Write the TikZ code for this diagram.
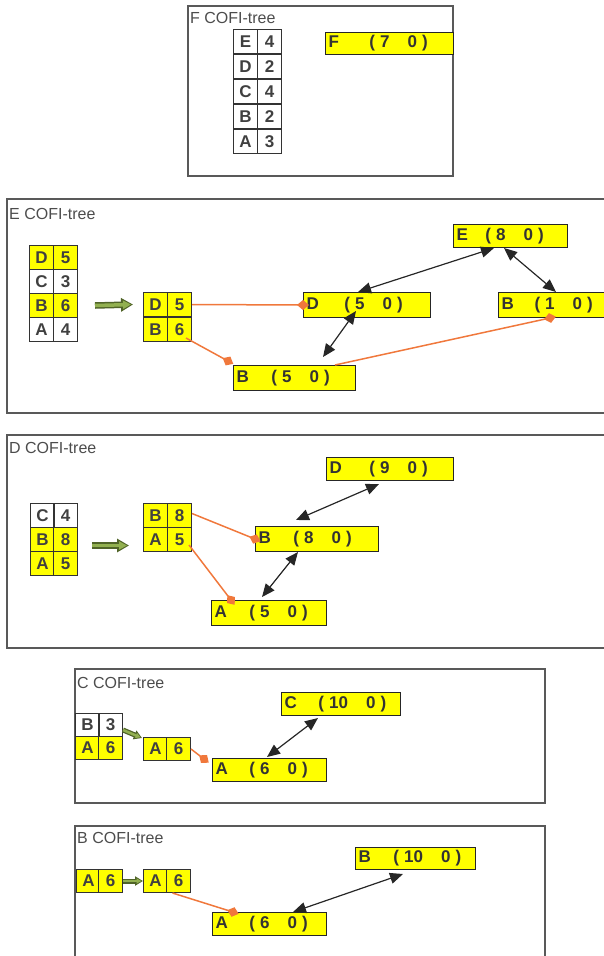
\documentclass[tikz,border=0pt]{standalone}
\usepackage{fontspec}
\setmainfont{Liberation Sans}
\usetikzlibrary{arrows.meta}

\definecolor{cofiyellow}{RGB}{255,255,0}
\definecolor{linkorange}{RGB}{240,120,60}
\definecolor{tipgreen}{RGB}{146,176,80}
\definecolor{rimgreen}{RGB}{80,100,40}

% item label, gap to the bracket, count
\newcommand\cofitext[3]{\makebox[#1][l]{#2}(\hspace{5pt}#3\hspace{18pt}0\hspace{5pt})}

\begin{document}
\begin{tikzpicture}[x=1pt,y=-1pt,
	frame/.style={draw=black!65,line width=1.6pt},
	title/.style={anchor=west,inner sep=0pt,text=black!70,font=\fontsize{16}{18}\selectfont},
	cell/.style={draw=black!80,line width=1pt,anchor=north west,minimum width=24pt,minimum height=24pt,inner sep=0pt,text=black!75,font=\fontsize{17}{18}\selectfont\bfseries},
	hl/.style={fill=cofiyellow},
	cofi/.style={draw=black!85,fill=cofiyellow,line width=1pt,anchor=north west,text width=#1,align=left,inner xsep=3pt,inner ysep=0pt,minimum height=23pt,text=black!80,font=\fontsize{17}{18}\selectfont\bfseries},
	tree/.style={draw=black!85,line width=1.2pt,{Triangle[length=13pt,width=11pt]}-{Triangle[length=13pt,width=11pt]}},
	link/.style={draw=linkorange,line width=1.5pt,-{Diamond[length=12pt,width=10pt]},shorten >=-6pt},
	move/.style={draw=tipgreen,line width=3.5pt,-{Triangle[length=8pt,width=8pt]},shorten >=2pt,
		preaction={draw=rimgreen,line width=6.5pt,-{Triangle[length=12pt,width=13pt]},shorten >=0pt}},
	smallmove/.style={draw=tipgreen,line width=2.5pt,-{Triangle[length=5pt,width=5pt]},shorten >=1.5pt,
		preaction={draw=rimgreen,line width=5pt,-{Triangle[length=8pt,width=9pt]},shorten >=0pt}}]
		\useasboundingbox (0,0) rectangle (604,956);
		\clip (0,0) rectangle (604,956);

		% F
		\draw[frame] (188,6) rectangle (453,176);
		\node[title] (fT) at (190,18) {F COFI-tree};
		\node[cell] (f1E) at (233,29) {E};
		\node[cell] (f1En) at (257,29) {4};
		\node[cell] (f1D) at (233,54) {D};
		\node[cell] (f1Dn) at (257,54) {2};
		\node[cell] (f1C) at (233,79) {C};
		\node[cell] (f1Cn) at (257,79) {4};
		\node[cell] (f1B) at (233,104) {B};
		\node[cell] (f1Bn) at (257,104) {2};
		\node[cell] (f1A) at (233,129) {A};
		\node[cell] (f1An) at (257,129) {3};
		\node[cofi=122pt,minimum height=22pt] (fF) at (325,32) {\cofitext{41pt}{F}{7}};

		% E
		\draw[frame] (7,199) rectangle (620,413);
		\node[title] (eT) at (9,214) {E COFI-tree};
		\node[cell,hl] (e1D) at (29,245) {D};
		\node[cell,hl] (e1Dn) at (53,245) {5};
		\node[cell] (e1C) at (29,269) {C};
		\node[cell] (e1Cn) at (53,269) {3};
		\node[cell,hl] (e1B) at (29,293) {B};
		\node[cell,hl] (e1Bn) at (53,293) {6};
		\node[cell] (e1A) at (29,317) {A};
		\node[cell] (e1An) at (53,317) {4};
		\node[cell,hl] (e2D) at (143,292) {D};
		\node[cell,hl] (e2Dn) at (167,292) {5};
		\node[cell,hl] (e2B) at (143,317) {B};
		\node[cell,hl] (e2Bn) at (167,317) {6};
		\draw[move] ([xshift=17pt]e1Bn.east) -- ([xshift=-10pt]e2D.west);

		\node[cofi=108pt] (eE) at (453,224) {\cofitext{29pt}{E}{8}};
		\node[cofi=121pt,minimum height=25pt] (eD) at (303,292) {\cofitext{38pt}{D}{5}};
		\node[cofi=120pt,minimum height=25pt] (eB1) at (498,292) {\cofitext{33pt}{B}{1}};
		\node[cofi=116pt,minimum height=25pt] (eB5) at (233,365) {\cofitext{35pt}{B}{5}};

		\draw[tree] ([xshift=41pt]eE.south west) -- ([xshift=55pt]eD.north west);
		\draw[tree] ([xshift=51pt]eE.south west) -- ([xshift=58pt]eB1.north west);
		\draw[tree] ([xshift=53pt,yshift=7pt]eD.south west) -- ([xshift=90pt,yshift=8pt]eB5.north west);
		\draw[link] (e2Dn.east) -- (eD.west);
		\draw[link] ([xshift=-6pt,yshift=4pt]e2Bn.south east) -- ([xshift=-5pt,yshift=4pt]eB5.north west);
		\draw[link] ([xshift=102pt]eB5.north west) -- ([xshift=52pt]eB1.south west);

		% D
		\draw[frame] (7,435) rectangle (620,648);
		\node[title] (dT) at (9,448) {D COFI-tree};
		\node[cell] (d1C) at (30,503) {C};
		\node[cell] (d1Cn) at (53,503) {4};
		\node[cell,hl] (d1B) at (30,527) {B};
		\node[cell,hl] (d1Bn) at (53,527) {8};
		\node[cell,hl] (d1A) at (30,551) {A};
		\node[cell,hl] (d1An) at (53,551) {5};
		\node[cell,hl] (d2B) at (143,503) {B};
		\node[cell,hl] (d2Bn) at (167,503) {8};
		\node[cell,hl] (d2A) at (143,527) {A};
		\node[cell,hl] (d2An) at (167,527) {5};
		\draw[move] ([xshift=14pt,yshift=-6pt]d1Bn.east) -- ([xshift=-14pt,yshift=-6pt]d2A.west);

		\node[cofi=121pt] (dD9) at (326,457) {\cofitext{40pt}{D}{9}};
		\node[cofi=117pt,minimum height=25pt] (dB8) at (255,526) {\cofitext{35pt}{B}{8}};
		\node[cofi=109pt,minimum height=25pt] (dA5) at (211,600) {\cofitext{35pt}{A}{5}};

		\draw[tree] ([xshift=53pt,yshift=-3pt]dD9.south west) -- ([xshift=41pt,yshift=6pt]dB8.north west);
		\draw[tree] ([xshift=43pt]dB8.south west) -- ([xshift=51pt,yshift=3pt]dA5.north west);
		\draw[link] ([yshift=2pt]d2Bn.east) -- (dB8.west);
		\draw[link] ([xshift=-3pt,yshift=7pt]d2An.south east) -- ([xshift=20pt]dA5.north west);

		% C
		\draw[frame] (75,669) rectangle (545,803);
		\node[title] (cT) at (77,683) {C COFI-tree};
		\node[cell,minimum height=23pt] (c1B) at (75,713) {B};
		\node[cell,minimum height=23pt] (c1Bn) at (98,713) {3};
		\node[cell,hl,minimum height=23pt] (c1A) at (75,736) {A};
		\node[cell,hl,minimum height=23pt] (c1An) at (98,736) {6};
		\node[cell,hl,minimum height=23pt] (c2A) at (143,737) {A};
		\node[cell,hl,minimum height=23pt] (c2An) at (166,737) {6};
		\draw[smallmove] ([yshift=-5pt]c1Bn.east) -- ([xshift=-1pt,yshift=-1pt]c2A.north west);

		\node[cofi=113pt] (cC10) at (281,692) {\cofitext{34pt}{C}{10}};
		\node[cofi=108pt] (cA6) at (212,758) {\cofitext{34pt}{A}{6}};

		\draw[tree] ([xshift=37pt,yshift=-2pt]cC10.south west) -- ([xshift=55pt,yshift=1pt]cA6.north west);
		\draw[link] (c2An.east) -- ([xshift=-8pt,yshift=-1pt]cA6.north west);

		% B
		\draw[frame] (75,970) -- (75,826) -- (545,826) -- (545,970);
		\node[title] (bT) at (77,838) {B COFI-tree};
		\node[cell,hl,minimum height=23pt] (b1A) at (76,869) {A};
		\node[cell,hl,minimum height=23pt] (b1An) at (98,869) {6};
		\node[cell,hl,minimum height=23pt] (b2A) at (143,869) {A};
		\node[cell,hl,minimum height=23pt] (b2An) at (166,869) {6};
		\draw[smallmove] (b1An.east) -- (b2A.west);

		\node[cofi=114pt,minimum height=22pt] (bB10) at (355,847) {\cofitext{35pt}{B}{10}};
		\node[cofi=108pt] (bA6) at (212,912) {\cofitext{34pt}{A}{6}};

		\draw[tree] ([xshift=48pt,yshift=-4pt]bB10.south west) -- ([xshift=81pt]bA6.north west);
		\draw[link] ([xshift=-6pt]b2An.south) -- ([xshift=21pt]bA6.north west);
\end{tikzpicture}
\end{document}
